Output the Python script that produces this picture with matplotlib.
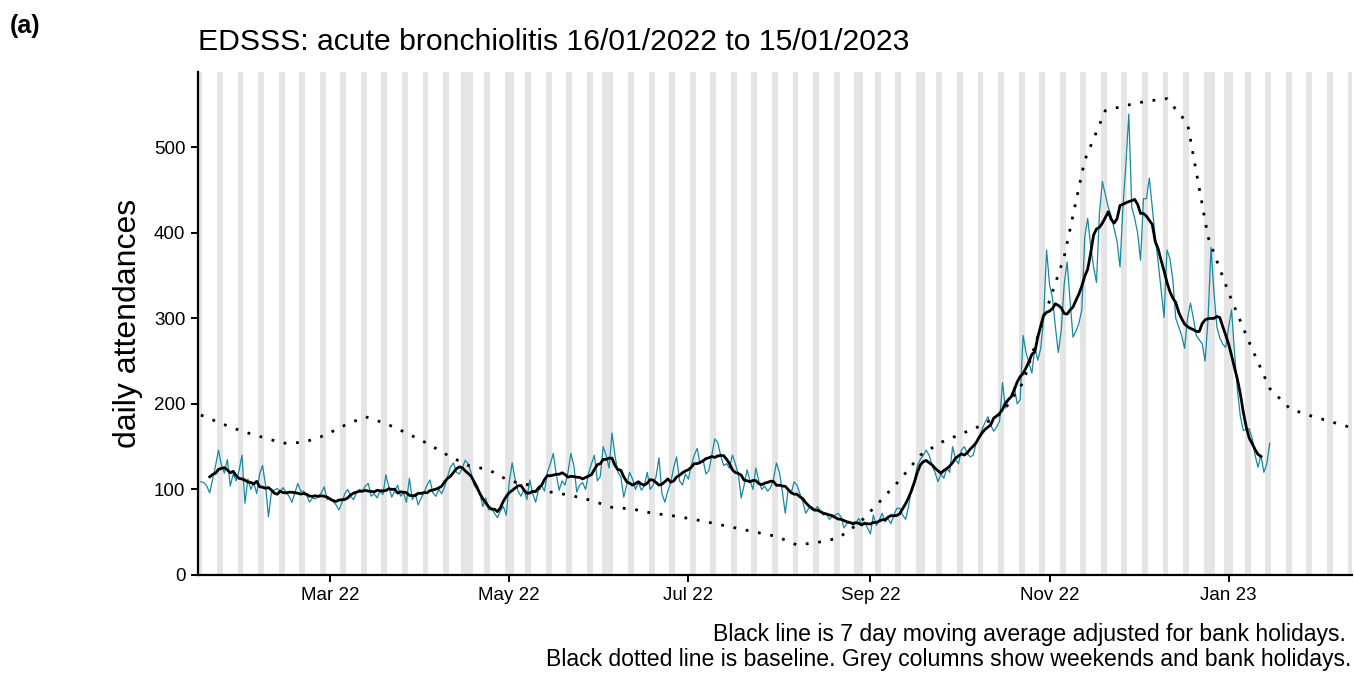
import numpy as np
import pandas as pd
import matplotlib
matplotlib.use("Agg")
import matplotlib.pyplot as plt
import matplotlib.dates as mdates

plt.rcParams['font.family'] = ['Liberation Sans', 'DejaVu Sans']

# daily attendances, one row per week (Sun..Sat), starting Sun 16/01/2022
daily_weeks = [
    [109, 108, 104, 96, 112, 128, 146],
    [128, 119, 135, 104, 118, 110, 122],
    [140, 84, 112, 100, 108, 95, 118],
    [128, 105, 68, 96, 99, 101, 98],
    [102, 97, 92, 85, 96, 107, 98],
    [98, 93, 85, 90, 89, 92, 96],
    [103, 88, 90, 86, 82, 76, 84],
    [95, 100, 92, 88, 96, 100, 98],
    [104, 107, 92, 95, 90, 98, 94],
    [117, 103, 91, 98, 105, 92, 96],
    [85, 113, 88, 95, 82, 90, 96],
    [105, 111, 96, 92, 100, 95, 103],
    [115, 126, 131, 120, 118, 125, 134],
    [130, 120, 105, 100, 95, 80, 90],
    [76, 78, 72, 67, 75, 80, 70],
    [108, 131, 112, 98, 92, 100, 88],
    [111, 95, 85, 100, 105, 98, 120],
    [130, 142, 118, 99, 110, 105, 120],
    [142, 128, 97, 105, 108, 100, 118],
    [130, 140, 110, 115, 150, 140, 125],
    [166, 140, 120, 115, 91, 105, 120],
    [112, 100, 108, 99, 104, 120, 100],
    [105, 115, 137, 95, 85, 98, 108],
    [125, 138, 110, 105, 118, 112, 128],
    [140, 148, 130, 135, 118, 122, 140],
    [159, 155, 140, 128, 130, 125, 140],
    [130, 118, 90, 105, 123, 110, 100],
    [125, 110, 100, 104, 98, 102, 112],
    [131, 120, 98, 72, 100, 95, 109],
    [105, 95, 85, 72, 78, 80, 76],
    [80, 74, 70, 72, 65, 68, 70],
    [72, 68, 55, 60, 62, 58, 60],
    [66, 60, 62, 55, 48, 70, 58],
    [64, 72, 62, 66, 60, 70, 78],
    [78, 70, 65, 80, 102, 110, 128],
    [135, 140, 146, 140, 128, 120, 109],
    [118, 113, 125, 120, 150, 135, 130],
    [146, 150, 142, 138, 140, 154, 160],
    [170, 178, 185, 175, 168, 173, 180],
    [225, 195, 205, 210, 220, 200, 205],
    [280, 260, 248, 236, 266, 251, 265],
    [300, 380, 340, 324, 290, 260, 286],
    [340, 366, 320, 278, 285, 294, 310],
    [395, 417, 385, 360, 342, 423, 460],
    [445, 430, 420, 405, 390, 360, 430],
    [480, 539, 430, 417, 400, 368, 440],
    [440, 464, 430, 395, 366, 333, 301],
    [380, 370, 345, 300, 290, 280, 265],
    [300, 318, 300, 280, 275, 270, 250],
    [300, 383, 330, 290, 277, 270, 266],
    [290, 310, 260, 216, 185, 169, 170],
    [171, 160, 140, 126, 140, 120, 130],
    [154],
]

# baseline, weekly from Sun 16/01/2022
baseline = [187, 177, 168, 161, 154, 155, 163, 175, 185, 177, 166, 154, 140, 128,
            123, 110, 105, 97, 93, 87, 79, 77, 72, 69, 65, 60, 55, 50, 45, 35,
            38, 43, 60, 85, 111, 140, 155, 165, 175, 190, 225, 300, 372, 485,
            543, 549, 554, 557, 528, 395, 330, 272, 218, 194, 186, 179, 172]

bank_holidays = ['2022-04-15', '2022-04-18', '2022-05-02', '2022-06-02', '2022-06-03',
                 '2022-08-29', '2022-09-19', '2022-12-26', '2022-12-27', '2023-01-02']

tick_dates = ['2022-03-01', '2022-05-01', '2022-07-01', '2022-09-01', '2022-11-01', '2023-01-01']
tick_labels = ['Mar 22', 'May 22', 'Jul 22', 'Sep 22', 'Nov 22', 'Jan 23']

values = [v for week in daily_weeks for v in week]
dates = pd.date_range('2022-01-16', periods=len(values), freq='D')
series = pd.Series(values, index=dates)
ma7 = series.rolling(7, center=True).mean()
base_dates = pd.date_range('2022-01-16', periods=len(baseline), freq='7D')

x_start = pd.Timestamp('2022-01-15')
x_end = pd.Timestamp('2023-02-12')

fig = plt.figure(figsize=(13.54, 6.74), dpi=100)
ax = fig.add_axes([0.1462, 0.147, 0.8523, 0.746])

# grey columns: weekends and bank holidays
all_days = pd.date_range(x_start, x_end, freq='D')
bh = pd.to_datetime(bank_holidays)
for d in all_days:
    if d.dayofweek >= 5 or d in bh:
        ax.axvspan(d - pd.Timedelta(hours=12), d + pd.Timedelta(hours=12),
                   color='#e5e5e5', lw=0, zorder=0)

ax.plot(series.index, series.values, color='#168aa0', lw=0.9, zorder=2)
ax.plot(ma7.index, ma7.values, color='black', lw=2.0, zorder=3)
ax.plot(base_dates, baseline, color='black', lw=2.0, linestyle=(0, (1, 3.5)), zorder=3)

ax.set_xlim(x_start, x_end)
ax.set_ylim(0, 588)
ax.set_yticks([0, 100, 200, 300, 400, 500])
ax.set_xticks(pd.to_datetime(tick_dates))
ax.set_xticklabels(tick_labels)
ax.tick_params(labelsize=13.5, length=5, width=1.4, colors='black', pad=4)

for s in ['top', 'right']:
    ax.spines[s].set_visible(False)
for s in ['left', 'bottom']:
    ax.spines[s].set_linewidth(1.6)

ax.set_ylabel('daily attendances', fontsize=23, labelpad=8)
ax.set_title('EDSSS: acute bronchiolitis 16/01/2022 to 15/01/2023', loc='left',
             fontsize=21.7, pad=16)

fig.text(0.007, 0.962, '(a)', fontsize=18, fontweight='bold', va='center')
fig.text(0.994, 0.058, 'Black line is 7 day moving average adjusted for bank holidays.',
         ha='right', va='center', fontsize=16.6)
fig.text(0.998, 0.022, 'Black dotted line is baseline. Grey columns show weekends and bank holidays.',
         ha='right', va='center', fontsize=16.6)

fig.savefig('out.png', dpi=100)
